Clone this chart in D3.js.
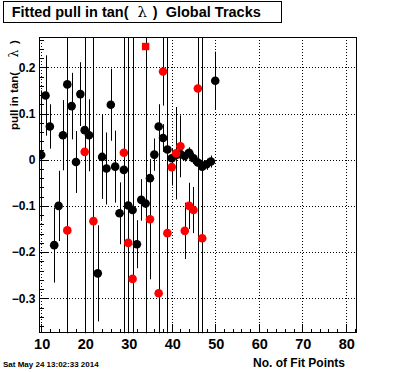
<!DOCTYPE html>
<html>
<head>
<meta charset="utf-8">
<script src="https://cdn.jsdelivr.net/npm/d3@7"></script>
<style>
  html, body { margin: 0; padding: 0; background: #fff; }
  svg { display: block; }
  text { font-family: "Liberation Sans", Arial, Helvetica, sans-serif; font-weight: bold; }
</style>
</head>
<body>
<div id="chart"></div>
<script>
// global tracks (black)
const blackX = [10, 11, 12, 13, 14, 15, 16, 17, 18, 19, 20, 21,
                23, 24, 25, 26, 27, 28, 29, 30, 31, 32, 33, 34, 35, 36,
                37, 38, 39, 40, 41, 42, 43, 44, 45, 46, 47, 48, 49, 50];
const blackY = [0.010, 0.139, 0.072, -0.185, -0.100, 0.053, 0.163, 0.116, -0.005, 0.142, 0.064, 0.053,
                -0.246, 0.006, -0.019, 0.119, -0.015, -0.116, -0.022, -0.099, -0.109, -0.183, -0.087, -0.095, -0.040, 0.011,
                0.072, 0.047, 0.022, 0.003, 0.010, 0.012, 0.008, 0.015, 0.003, -0.006, -0.015, -0.010, -0.004, 0.171];
const blackErr = [0.14, 0.087, 0.048, 0.081, 0.076, 0.076, 0.12, 0.072, 0.067, 0.069, 0.08, 0.078,
                  0.104, 0.091, 0.078, 0.078, 0.078, 0.067, 0.08, 0.08, 0.08, 0.052, 0.045, 0.06, 0.033, 0.035,
                  0.048, 0.03, 0.03, 0.02, 0.015, 0.015, 0.012, 0.012, 0.012, 0.012, 0.012, 0.012, 0.013, 0.063];

// red series
const redX = [16, 20, 22, 29, 30, 31, 35, 37, 38, 39, 40, 41, 42, 43, 44, 45, 46, 47];
const redY = [-0.153, 0.017, -0.133, 0.015, -0.180, -0.258, -0.129, -0.289, 0.191, -0.159,
              -0.016, 0.014, 0.029, -0.154, -0.100, -0.109, 0.154, -0.170];
const redErr = [0.7, 0.7, 0.7, 0.7, 0.7, 0.7, 0.13, 0.39, 0.074, 0.7,
                0.04, 0.1, 0.067, 0.061, 0.05, 0.05, 0.7, 0.7];

// the one square red marker
const squareX = [34];
const squareY = [0.245];
const squareErr = [0.7];

const xTicks = [10, 20, 30, 40, 50, 60, 70, 80];
const yTicks = [-0.3, -0.2, -0.1, 0, 0.1, 0.2];

const W = 396, H = 372;
const frame = { left: 39, right: 356.7, top: 37, bottom: 333.3 };

const svg = d3.select("#chart").append("svg")
    .attr("width", W)
    .attr("height", H);

svg.append("rect").attr("width", W).attr("height", H).attr("fill", "#fff");

const x = d3.scaleLinear().domain([9.5, 82.5]).range([frame.left, frame.right]);
const y = d3.scaleLinear().domain([-0.3758, 0.2656]).range([frame.bottom, frame.top]);

svg.append("clipPath").attr("id", "clip")
    .append("rect")
    .attr("x", frame.left).attr("y", frame.top)
    .attr("width", frame.right - frame.left)
    .attr("height", frame.bottom - frame.top);

// dotted grid
const grid = svg.append("g").attr("stroke", "#000").attr("stroke-width", 1)
    .attr("stroke-dasharray", "1,2").attr("shape-rendering", "crispEdges");
grid.selectAll(".gx").data(xTicks).enter().append("line")
    .attr("x1", d => Math.round(x(d)) + 0.5).attr("x2", d => Math.round(x(d)) + 0.5)
    .attr("y1", frame.top).attr("y2", frame.bottom);
grid.selectAll(".gy").data(yTicks).enter().append("line")
    .attr("y1", d => Math.round(y(d)) + 0.5).attr("y2", d => Math.round(y(d)) + 0.5)
    .attr("x1", frame.left).attr("x2", frame.right);

// ticks pointing inward, major every 10 / 0.1, minor every 2 / 0.02
const yMinor = d3.range(-0.36, 0.27, 0.02).map(v => +v.toFixed(2));
const xMinor = d3.range(10, 83, 2);

const ticks = svg.append("g").attr("stroke", "#000").attr("shape-rendering", "crispEdges");
ticks.selectAll(".xt").data(xMinor).enter().append("line")
    .attr("x1", d => Math.round(x(d)) + 0.5).attr("x2", d => Math.round(x(d)) + 0.5)
    .attr("y1", frame.bottom)
    .attr("y2", d => frame.bottom - (d % 10 === 0 ? 9 : 4.5));
ticks.selectAll(".yt").data(yMinor).enter().append("line")
    .attr("y1", d => Math.round(y(d)) + 0.5).attr("y2", d => Math.round(y(d)) + 0.5)
    .attr("x1", frame.left)
    .attr("x2", d => frame.left + (Math.abs(Math.round(d * 100)) % 10 === 0 ? 9 : 4.5));

// data
const plot = svg.append("g").attr("clip-path", "url(#clip)");

function drawBars(xs, ys, es) {
  plot.append("g").selectAll("line").data(xs).enter().append("line")
      .attr("x1", d => Math.round(x(d)) + 0.5).attr("x2", d => Math.round(x(d)) + 0.5)
      .attr("y1", (d, i) => y(ys[i] + es[i]))
      .attr("y2", (d, i) => y(ys[i] - es[i]))
      .attr("stroke", "#000").attr("stroke-width", 1);
}

drawBars(blackX, blackY, blackErr);
plot.append("g").selectAll("circle").data(blackX).enter().append("circle")
    .attr("cx", d => x(d)).attr("cy", (d, i) => y(blackY[i]))
    .attr("r", 4.3).attr("fill", "#000");

drawBars(redX, redY, redErr);
drawBars(squareX, squareY, squareErr);
plot.append("g").selectAll("circle").data(redX).enter().append("circle")
    .attr("cx", d => x(d)).attr("cy", (d, i) => y(redY[i]))
    .attr("r", 4.3).attr("fill", "#ff0000");
plot.append("g").selectAll("rect").data(squareX).enter().append("rect")
    .attr("x", d => x(d) - 3.7).attr("y", (d, i) => y(squareY[i]) - 3.7)
    .attr("width", 7.4).attr("height", 7.4).attr("fill", "#ff0000");

// frame
svg.append("rect")
    .attr("x", frame.left + 0.5).attr("y", frame.top + 0.5)
    .attr("width", frame.right - frame.left - 1).attr("height", frame.bottom - frame.top - 1)
    .attr("fill", "none").attr("stroke", "#000").attr("shape-rendering", "crispEdges");

// tick labels
svg.append("g").selectAll("text").data(xTicks).enter().append("text")
    .attr("x", d => x(d) + 1).attr("y", 349.3)
    .attr("text-anchor", "middle").attr("font-size", 14.5)
    .text(d => d);
svg.append("g").selectAll("text").data(yTicks).enter().append("text")
    .attr("x", 35.5).attr("y", d => y(d) + 4.4)
    .attr("text-anchor", "end").attr("font-size", 12)
    .text(d => d3.format("")(+d.toFixed(1)));

// axis titles
svg.append("text").attr("x", 345).attr("y", 367)
    .attr("text-anchor", "end").attr("font-size", 12)
    .text("No. of Fit Points");

const yt = svg.append("g").attr("transform", "translate(18.3,0) rotate(-90)");
yt.append("text").attr("x", -130).attr("y", 0).attr("font-size", 11.5).text("pull in tan(");
yt.append("text").attr("x", -57.5).attr("y", 0).attr("font-size", 12.5)
    .style("font-weight", "normal").style("font-family", "'DejaVu Serif', serif").text("λ");
yt.append("text").attr("x", -44).attr("y", 0).attr("font-size", 11.5).text(")");

// title box
svg.append("rect").attr("x", 3.5).attr("y", 1.5).attr("width", 278).attr("height", 21)
    .attr("fill", "#fff").attr("stroke", "#000").attr("shape-rendering", "crispEdges");
svg.append("text").attr("x", 11.7).attr("y", 17.3).attr("font-size", 14.5).text("Fitted pull in tan(");
svg.append("text").attr("x", 137.5).attr("y", 17.3).attr("font-size", 15)
    .style("font-weight", "normal").style("font-family", "'DejaVu Serif', serif").text("λ");
svg.append("text").attr("x", 152.7).attr("y", 17.3).attr("font-size", 14.5).text(")");
svg.append("text").attr("x", 165.7).attr("y", 17.3).attr("font-size", 14.5).text("Global Tracks");

// date stamp
svg.append("text").attr("x", 3).attr("y", 367).attr("font-size", 8).text("Sat May 24 13:02:33 2014");
</script>
</body>
</html>
